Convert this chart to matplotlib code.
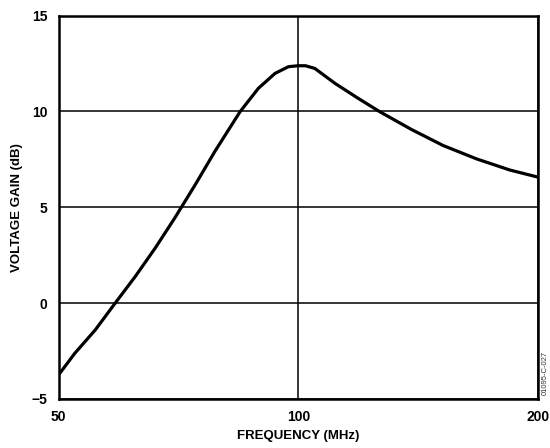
import matplotlib
matplotlib.use("Agg")
import matplotlib.pyplot as plt
from matplotlib.ticker import FixedLocator, FixedFormatter, NullLocator

# Voltage gain vs. frequency
freq_mhz = [50.0, 52.4, 55.6, 58.9, 62.4, 66.1, 70.0, 74.2, 78.6, 84.5,
            89.1, 93.5, 97.2, 100.0, 102.1, 104.9, 111.2, 118.9, 126.6,
            138.8, 152.0, 167.5, 184.4, 200.0]
gain_db = [-3.75, -2.62, -1.40, 0.0, 1.38, 2.86, 4.45, 6.16, 7.92, 9.98,
           11.2, 11.98, 12.33, 12.38, 12.38, 12.24, 11.46, 10.68, 9.98,
           9.05, 8.22, 7.52, 6.94, 6.57]

x_ticks = [50, 100, 200]
x_tick_labels = ["50", "100", "200"]
y_ticks = [-5, 0, 5, 10, 15]
y_tick_labels = ["\u22125", "0", "5", "10", "15"]

plt.rcParams["font.family"] = ["Liberation Sans", "DejaVu Sans"]
plt.rcParams["font.weight"] = "bold"

fig = plt.figure(figsize=(5.5, 4.48), dpi=100)
ax = fig.add_axes([0.1064, 0.1094, 0.9782 - 0.1064, 0.9654 - 0.1094])

ax.plot(freq_mhz, gain_db, color="black", linewidth=2.3, zorder=3,
        solid_capstyle="round", solid_joinstyle="round")

ax.set_xscale("log")
ax.set_xlim(50, 200)
ax.set_ylim(-5, 15)
ax.xaxis.set_major_locator(FixedLocator(x_ticks))
ax.xaxis.set_major_formatter(FixedFormatter(x_tick_labels))
ax.xaxis.set_minor_locator(NullLocator())
ax.yaxis.set_major_locator(FixedLocator(y_ticks))
ax.yaxis.set_major_formatter(FixedFormatter(y_tick_labels))

ax.grid(True, color="black", linewidth=1.1)
ax.tick_params(length=0, pad=8, labelsize=10)
for lbl in ax.get_xticklabels() + ax.get_yticklabels():
    lbl.set_fontweight("bold")
for sp in ax.spines.values():
    sp.set_linewidth(1.8)

ax.set_xlabel("FREQUENCY (MHz)", fontsize=9.5, fontweight="bold", labelpad=4)
ax.set_ylabel("VOLTAGE GAIN (dB)", fontsize=9.5, fontweight="bold", labelpad=6)

fig.text(0.991, 0.118, "01095-C-027", rotation=90, fontsize=5.5,
         fontweight="normal", color="#333333", ha="center", va="bottom")

fig.savefig("out.png", dpi=100)
